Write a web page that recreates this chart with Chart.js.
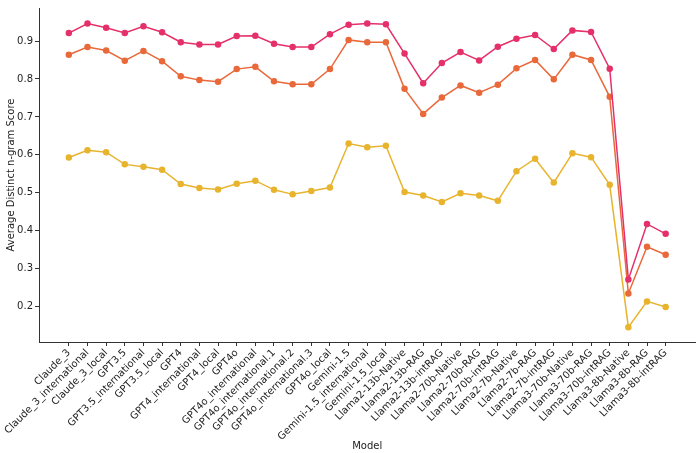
<!DOCTYPE html>
<html>
<head>
<meta charset="utf-8">
<script src="https://cdn.jsdelivr.net/npm/chart.js@4/dist/chart.umd.min.js"></script>
<style>
  html, body { margin: 0; padding: 0; background: #fff; }
  #wrap { width: 700px; height: 453px; }
</style>
</head>
<body>
<div id="wrap"><canvas id="grafico"></canvas></div>
<script>
// Modelos (eixo x)
const modelos = [
  'Claude_3', 'Claude_3_international', 'Claude_3_local',
  'GPT3.5', 'GPT3.5_international', 'GPT3.5_local',
  'GPT4', 'GPT4_international', 'GPT4_local',
  'GPT4o', 'GPT4o_international', 'GPT4o_international.1',
  'GPT4o_international.2', 'GPT4o_international.3', 'GPT4o_local',
  'Gemini-1.5', 'Gemini-1.5_international', 'Gemini-1.5_local',
  'Llama2-13b-Native', 'Llama2-13b-RAG', 'Llama2-13b-intRAG',
  'Llama2-70b-Native', 'Llama2-70b-RAG', 'Llama2-70b-intRAG',
  'Llama2-7b-Native', 'Llama2-7b-RAG', 'Llama2-7b-intRAG',
  'Llama3-70b-Native', 'Llama3-70b-RAG', 'Llama3-70b-intRAG',
  'Llama3-8b-Native', 'Llama3-8b-RAG', 'Llama3-8b-intRAG'
];

// Valores
const distinct1 = [
  0.593, 0.612, 0.607, 0.575, 0.569, 0.561, 0.523, 0.513, 0.509, 0.524, 0.532,
  0.508, 0.496, 0.505, 0.514, 0.630, 0.620, 0.624, 0.502, 0.493, 0.476, 0.499,
  0.493, 0.479, 0.557, 0.590, 0.527, 0.604, 0.594, 0.521, 0.146, 0.214, 0.199
];
const distinct2 = [
  0.864, 0.884, 0.875, 0.848, 0.874, 0.847, 0.807, 0.797, 0.793, 0.826, 0.832,
  0.794, 0.786, 0.786, 0.826, 0.903, 0.897, 0.897, 0.774, 0.708, 0.751, 0.783,
  0.764, 0.785, 0.828, 0.850, 0.799, 0.864, 0.850, 0.753, 0.235, 0.358, 0.337
];
const distinct3 = [
  0.921, 0.946, 0.935, 0.921, 0.939, 0.923, 0.897, 0.891, 0.891, 0.913, 0.914,
  0.893, 0.884, 0.884, 0.918, 0.943, 0.946, 0.944, 0.867, 0.789, 0.842, 0.871,
  0.849, 0.885, 0.906, 0.916, 0.879, 0.928, 0.924, 0.827, 0.272, 0.418, 0.392
];
const yTicks = [0.2, 0.3, 0.4, 0.5, 0.6, 0.7, 0.8, 0.9];

const fonte = { family: 'DejaVu Sans', size: 10 };
const corTexto = '#222';
const corEixo = '#333';

function serie(nome, valores, cor) {
  return {
    label: nome,
    data: valores.map((v, i) => ({ x: i, y: v })),
    borderColor: cor,
    backgroundColor: cor,
    borderWidth: 1.5,
    pointRadius: 2.5,
    pointHoverRadius: 3,
    tension: 0
  };
}

const ctx = document.getElementById('grafico').getContext('2d');
new Chart(ctx, {
  type: 'line',
  data: {
    datasets: [
      serie('Distinct-3', distinct3, '#e5306a'),
      serie('Distinct-2', distinct2, '#e9693a'),
      serie('Distinct-1', distinct1, '#e8b42e')
    ]
  },
  options: {
    responsive: true,
    maintainAspectRatio: false,
    animation: false,
    devicePixelRatio: 1,
    layout: { padding: { top: 4, right: 3, left: 0, bottom: 0 } },
    plugins: { legend: { display: false }, tooltip: { enabled: false } },
    scales: {
      x: {
        type: 'linear',
        min: -1.6,
        max: modelos.length - 1 + 1.6,
        afterBuildTicks: (scale) => { scale.ticks = modelos.map((_, i) => ({ value: i })); },
        afterFit: (scale) => { scale.height = 111; },
        ticks: {
          autoSkip: false,
          minRotation: 45,
          maxRotation: 45,
          padding: 1,
          font: fonte,
          color: corTexto,
          callback: (v) => modelos[v]
        },
        grid: { drawOnChartArea: false, drawTicks: true, tickLength: 4, color: corEixo },
        border: { display: true, color: corEixo, width: 1 },
        title: { display: true, text: 'Model', font: fonte, color: corTexto, padding: { top: 0, bottom: 1 } }
      },
      y: {
        min: 0.107,
        max: 0.987,
        afterBuildTicks: (scale) => { scale.ticks = yTicks.map(v => ({ value: v })); },
        afterFit: (scale) => { scale.width = 39; },
        ticks: {
          padding: 2,
          font: fonte,
          color: corTexto,
          callback: (v) => v.toFixed(1)
        },
        grid: { drawOnChartArea: false, drawTicks: true, tickLength: 4, color: corEixo },
        border: { display: true, color: corEixo, width: 1 },
        title: { display: true, text: 'Average Distinct n-gram Score', font: fonte, color: corTexto, padding: { top: 5, bottom: 0 } }
      }
    }
  }
});
</script>
</body>
</html>
